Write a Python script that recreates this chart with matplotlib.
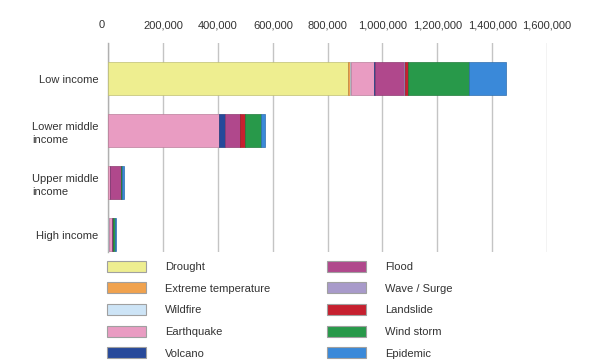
import matplotlib
matplotlib.use("Agg")
import matplotlib.pyplot as plt
from matplotlib.patches import Patch
from matplotlib.ticker import FuncFormatter
import matplotlib.transforms as mtransforms
import numpy as np

plt.rcParams['font.family'] = ['Liberation Sans', 'DejaVu Sans']

categories = ["Low income", "Lower middle\nincome", "Upper middle\nincome", "High income"]
hazards = ["Drought", "Extreme temperature", "Wildfire", "Earthquake", "Volcano",
           "Flood", "Wave / Surge", "Landslide", "Wind storm", "Epidemic"]
colors = ["#EEEE90", "#F0A24E", "#CDE4F6", "#E99CC2", "#27499A",
          "#B0488C", "#A89ACA", "#C6202F", "#28994A", "#3A89D9"]

# values per hazard (Low, Lower middle, Upper middle, High)
drought    = [874000, 0, 0, 0]
extreme    = [8000, 0, 0, 0]
wildfire   = [4000, 0, 0, 3000]
earthquake = [82000, 403000, 6000, 12000]
volcano    = [5000, 24000, 0, 0]
flood      = [107000, 55000, 39000, 2000]
wave       = [1000, 0, 0, 0]
landslide  = [12000, 17000, 1000, 1000]
windstorm  = [221000, 57000, 5000, 8000]
epidemic   = [137000, 17000, 7000, 1000]

series = [drought, extreme, wildfire, earthquake, volcano,
          flood, wave, landslide, windstorm, epidemic]

xticks = [0, 200000, 400000, 600000, 800000, 1000000, 1200000, 1400000, 1600000]

fig = plt.figure(figsize=(6.02, 3.64), dpi=100)
ax = fig.add_axes([0.180, 0.3077, 0.7286, 0.5742])

y = np.arange(len(categories))
left = np.zeros(len(categories))
for name, vals, c in zip(hazards, series, colors):
    vals = np.array(vals, dtype=float)
    ec = tuple(max(0, v * 0.8) for v in matplotlib.colors.to_rgb(c))
    ax.barh(y, vals, left=left, height=0.63, color=c, edgecolor=ec, linewidth=0.5, zorder=3)
    left += vals

ax.set_xlim(0, 1600000)
ax.set_ylim(3.33, -0.69)
ax.set_yticks(y)
ax.set_yticklabels(categories, multialignment='left', linespacing=1.35)
ax.set_xticks(xticks)
ax.xaxis.set_major_formatter(FuncFormatter(lambda v, p: f"{int(v):,}"))
ax.xaxis.tick_top()
ax.tick_params(axis='x', length=0, pad=9, labelsize=8, labelcolor='#333333')
ax.tick_params(axis='y', length=0, pad=7, labelsize=8, labelcolor='#333333')
ax.grid(axis='x', color='#c4c4c4', linewidth=1.0, zorder=0)
ax.set_axisbelow(True)
for s in ['top', 'right', 'bottom']:
    ax.spines[s].set_visible(False)
ax.spines['left'].set_color('#b0b0b0')
ax.spines['left'].set_linewidth(1.0)

# shift "0" label slightly left like the reference
lbls = ax.get_xticklabels()
off = mtransforms.ScaledTranslation(-7 / 100, 0, fig.dpi_scale_trans)
lbls[0].set_transform(lbls[0].get_transform() + off)

handles = [Patch(facecolor=c, edgecolor='#a0a0a0', linewidth=0.8) for c in colors]
fig.legend(handles, hazards, loc='upper left', bbox_to_anchor=(0.1782, 1 - 260.5 / 364),
           ncol=2, frameon=False, fontsize=8, handlelength=3.5, handleheight=1.15,
           handletextpad=1.7, columnspacing=5.1, labelspacing=0.94, borderpad=0,
           borderaxespad=0, labelcolor='#333333')

fig.savefig("out.png", dpi=100)
